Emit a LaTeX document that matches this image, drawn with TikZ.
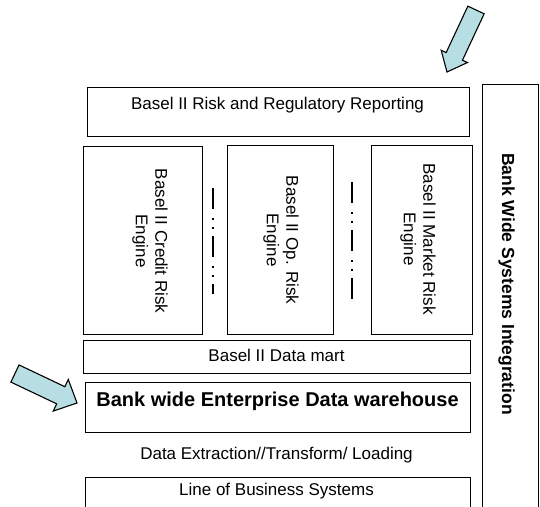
\documentclass[tikz,border=0pt]{standalone}
\usepackage{fontspec}
\setmainfont{Liberation Sans}
\definecolor{arrowfill}{RGB}{183,222,226}
\begin{document}
\begin{tikzpicture}[x=1pt,y=-1pt,
 box/.style={draw, line width=1.4pt, inner sep=0pt, anchor=north west},
 txt/.style={font=\fontsize{17}{19.5}\selectfont, inner sep=0pt, anchor=base},
 vtxt/.style={font=\fontsize{17}{19.5}\selectfont, align=center, rotate=-90, inner sep=0pt},
 sepline/.style={line width=2pt, dash pattern=on 21pt off 9pt on 2pt off 7pt on 2pt off 7pt},
 barrow/.style={draw, line width=1.1pt, fill=arrowfill, line join=miter}]
\useasboundingbox (0,0) rectangle (540,506);
\clip (0,0) rectangle (540,506);
% boxes
\node[box, minimum width=382pt, minimum height=49pt] (rep) at (87,87) {};
\node[box, minimum width=119pt, minimum height=188pt] (credit) at (83,146) {};
\node[box, minimum width=106pt, minimum height=189pt] (op) at (227,145) {};
\node[box, minimum width=101pt, minimum height=189pt] (market) at (371,145) {};
\node[box, minimum width=387pt, minimum height=33pt] (mart) at (83,340) {};
\node[box, minimum width=385pt, minimum height=50pt] (edw) at (85,382) {};
\node[box, minimum width=385pt, minimum height=45pt] (lob) at (85,477) {};
\node[box, minimum width=56pt, minimum height=440pt] (bwsi) at (482,84) {};
% texts
\node[txt] (repT) at (277.5,109) {Basel II Risk and Regulatory Reporting};
\node[txt] (martT) at (276.5,361) {Basel II Data mart};
\node[txt, font=\fontsize{20}{23}\selectfont\bfseries] (edwT) at (277.5,406.5) {Bank wide Enterprise Data warehouse};
\node[txt] (etlT) at (276.5,459) {Data Extraction//Transform/ Loading};
\node[txt] (lobT) at (276.5,495.5) {Line of Business Systems};
\node[vtxt] (creditT) at (150,241) {Basel II Credit Risk\\Engine};
\node[vtxt] (opT) at (281,240) {Basel II Op. Risk\\Engine};
\node[vtxt] (marketT) at (418,239) {Basel II Market Risk\\Engine};
\node[txt, rotate=-90, font=\fontsize{17.5}{20}\selectfont\bfseries] (bwsiT) at (502,284) {Bank Wide Systems Integration};
% separators
\coordinate (s1a) at (213,188); \coordinate (s1b) at (213,294);
\coordinate (s2a) at (352,182); \coordinate (s2b) at (352,303);
\draw[sepline] (s1a) -- (s1b);
\draw[sepline] (s2a) -- (s2b);
% block arrows
\begin{scope}[shift={(461.5,41)}, rotate=-115.07]
\draw[barrow] (-34.25,-9) -- (17,-9) -- (17,-14.5) -- (34.25,0) -- (17,14.5) -- (17,9) -- (-34.25,9) -- cycle;
\end{scope}
\begin{scope}[shift={(46,388.25)}, rotate=-25.4]
\draw[barrow] (-34.35,-9.5) -- (16.35,-9.5) -- (16.35,-17.5) -- (34.35,0) -- (16.35,17.5) -- (16.35,9.5) -- (-34.35,9.5) -- cycle;
\end{scope}
\end{tikzpicture}
\end{document}
